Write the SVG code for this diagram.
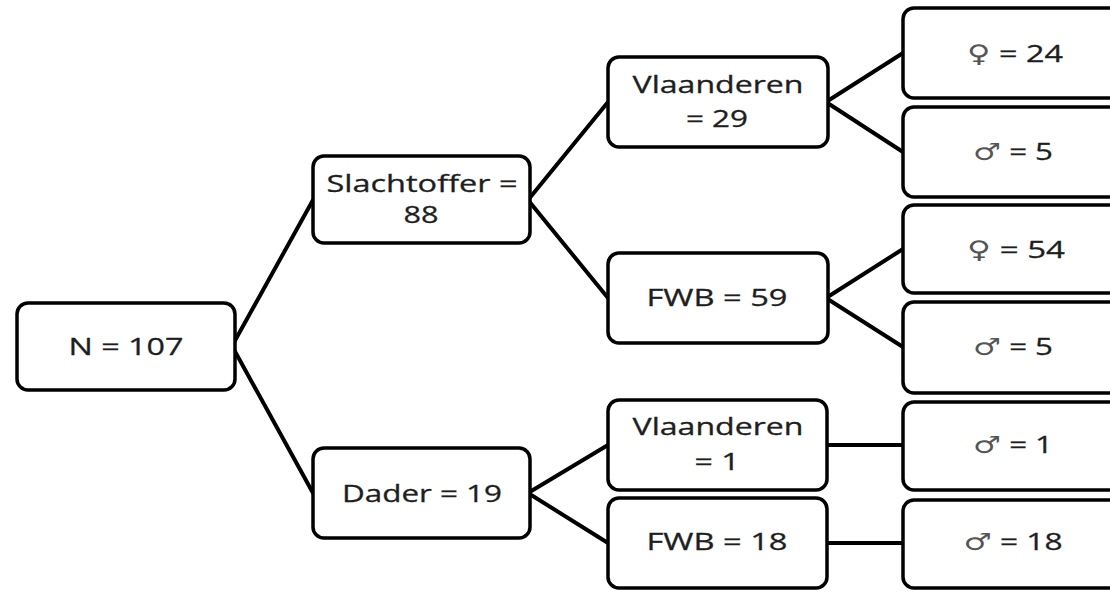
<svg xmlns="http://www.w3.org/2000/svg" width="1110" height="593" viewBox="0 0 1110 593">
<style>
.box{fill:#fff;stroke:#000;stroke-width:3.5}
.t{font-family:"Open Sans","DejaVu Sans",sans-serif;font-size:24px;fill:#1e1e1e;text-anchor:middle;stroke:#1e1e1e;stroke-width:0.3}
.s{font-family:"DejaVu Sans",sans-serif;fill:#555;stroke:none}
.c{stroke:#000;stroke-width:4;fill:none;stroke-linecap:round}
</style>
<rect width="1110" height="593" fill="#fff"/>
<g id="connectors">
<path class="c" d="M232 346 L313 200 M232 346 L313 493"/>
<path class="c" d="M528 200 L608 102 M528 200 L608 298"/>
<path class="c" d="M826 102 L903 53 M826 102 L903 152"/>
<path class="c" d="M826 298 L903 249 M826 298 L903 347"/>
<path class="c" d="M528 493 L608 445 M528 493 L608 543"/>
<path class="c" d="M826 445 L903 445 M826 543 L903 543"/>
</g>
<g id="n-root">
<rect class="box" x="17" y="303" width="218" height="87" rx="11"/>
<text class="t" x="126" y="355" textLength="115" lengthAdjust="spacingAndGlyphs">N = 107</text>
</g>
<g id="n-slachtoffer">
<rect class="box" x="313" y="156" width="217" height="87" rx="11"/>
<text class="t" x="422" y="192" textLength="191" lengthAdjust="spacingAndGlyphs">Slachtoffer =</text>
<text class="t" x="421" y="223" textLength="35" lengthAdjust="spacingAndGlyphs">88</text>
</g>
<g id="n-dader">
<rect class="box" x="313" y="448" width="217" height="90" rx="11"/>
<text class="t" x="422" y="502" textLength="160" lengthAdjust="spacingAndGlyphs">Dader = 19</text>
</g>
<g id="n-vl29">
<rect class="box" x="608" y="57" width="220" height="90" rx="11"/>
<text class="t" x="718" y="93" textLength="171" lengthAdjust="spacingAndGlyphs">Vlaanderen</text>
<text class="t" x="717" y="127" textLength="62" lengthAdjust="spacingAndGlyphs">= 29</text>
</g>
<g id="n-fwb59">
<rect class="box" x="608" y="253" width="220" height="90" rx="11"/>
<text class="t" x="717" y="306" textLength="141" lengthAdjust="spacingAndGlyphs">FWB = 59</text>
</g>
<g id="n-vl1">
<rect class="box" x="608" y="400" width="219" height="90" rx="11"/>
<text class="t" x="718" y="435" textLength="171" lengthAdjust="spacingAndGlyphs">Vlaanderen</text>
<text class="t" x="717" y="470" textLength="45" lengthAdjust="spacingAndGlyphs">= 1</text>
</g>
<g id="n-fwb18">
<rect class="box" x="608" y="498" width="219" height="90" rx="11"/>
<text class="t" x="717" y="550" textLength="141" lengthAdjust="spacingAndGlyphs">FWB = 18</text>
</g>
<g id="n-f24">
<rect class="box" x="903" y="8" width="225" height="90" rx="11"/>
<text class="t" x="1015" y="62" textLength="96" lengthAdjust="spacingAndGlyphs"><tspan class="s">♀</tspan> = 24</text>
</g>
<g id="n-m5a">
<rect class="box" x="903" y="107" width="225" height="90" rx="11"/>
<text class="t" x="1013" y="160" textLength="80" lengthAdjust="spacingAndGlyphs"><tspan class="s">♂</tspan> = 5</text>
</g>
<g id="n-f54">
<rect class="box" x="903" y="205" width="225" height="88" rx="11"/>
<text class="t" x="1016" y="258" textLength="98" lengthAdjust="spacingAndGlyphs"><tspan class="s">♀</tspan> = 54</text>
</g>
<g id="n-m5b">
<rect class="box" x="903" y="302" width="225" height="91" rx="11"/>
<text class="t" x="1013" y="355" textLength="80" lengthAdjust="spacingAndGlyphs"><tspan class="s">♂</tspan> = 5</text>
</g>
<g id="n-m1">
<rect class="box" x="903" y="402" width="225" height="88" rx="11"/>
<text class="t" x="1013" y="453" textLength="80" lengthAdjust="spacingAndGlyphs"><tspan class="s">♂</tspan> = 1</text>
</g>
<g id="n-m18">
<rect class="box" x="903" y="500" width="225" height="88" rx="11"/>
<text class="t" x="1013" y="550" textLength="99" lengthAdjust="spacingAndGlyphs"><tspan class="s">♂</tspan> = 18</text>
</g>
</svg>
